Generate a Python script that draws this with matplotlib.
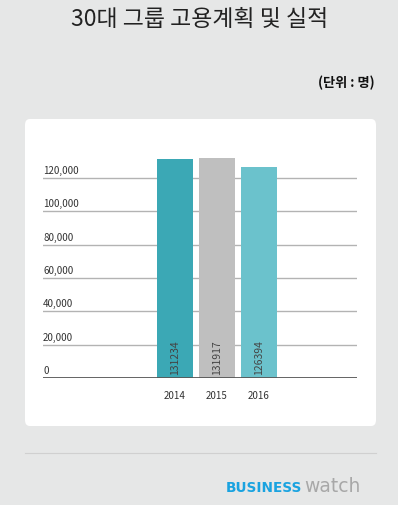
import matplotlib
matplotlib.use("Agg")
import matplotlib.pyplot as plt
from matplotlib.patches import FancyBboxPatch
from matplotlib.lines import Line2D

plt.rcParams['font.family'] = ['Noto Sans CJK KR', 'DejaVu Sans']

years = ['2014', '2015', '2016']
employees = [131234, 131917, 126394]
bar_colors = ['#3ba8b5', '#bfbfbf', '#6bc2cc']
yticks = [0, 20000, 40000, 60000, 80000, 100000, 120000]

W, H = 398, 506
BG = '#e6e7e7'


def fx(px):
    return px / W


def fy(py):
    return 1 - py / H


fig = plt.figure(figsize=(W / 100, H / 100), dpi=100)
fig.patch.set_facecolor(BG)

# white panel behind the axes
panel = FancyBboxPatch((fx(25), fy(427)), fx(376) - fx(25), fy(120) - fy(427),
                       boxstyle="round,pad=0,rounding_size=0.012",
                       transform=fig.transFigure, facecolor='white',
                       edgecolor='none', zorder=-1)
fig.patches.append(panel)

fig.text(fx(200), fy(20), '30대 그룹 고용계획 및 실적', ha='center', va='center',
         fontsize=16.5, color='#222222')
fig.text(fx(375), fy(83), '(단위 : 명)', ha='right', va='center',
         fontsize=9.5, fontweight='bold', color='#111111')

ax_left, ax_right = 43, 357
ax_top, ax_bottom = 140, 379
ax = fig.add_axes([fx(ax_left), fy(ax_bottom), fx(ax_right) - fx(ax_left),
                   fy(ax_top) - fy(ax_bottom)])
ax.set_zorder(1)
ax.set_facecolor('none')
px_per_unit = 42
ax.set_xlim(-(175 - ax_left) / px_per_unit, (ax_right - 175) / px_per_unit)
ymax = (ax_bottom - ax_top) / 200 * 120000
ax.set_ylim(0, ymax)

for t in yticks[1:]:
    ax.axhline(t, color='#b3b3b3', lw=1, zorder=1)
ax.axhline(0, color='#555555', lw=2, zorder=3)

xs = list(range(len(years)))
ax.bar(xs, employees, width=36 / px_per_unit, color=bar_colors, zorder=2)

for x, v in zip(xs, employees):
    ax.text(x, 2200, str(v), rotation=90, ha='center', va='bottom',
            fontsize=7.5, color='#444444', zorder=4)

for t in yticks:
    ax.text(0.0, t + 4800, f'{t:,}', transform=ax.get_yaxis_transform(),
            ha='left', va='center', fontsize=7, color='#333333')

for x, y in zip(xs, years):
    ax.text(x, -10500, y, ha='center', va='center', fontsize=7,
            color='#333333', clip_on=False)

ax.set_xticks([])
ax.set_yticks([])
for s in ax.spines.values():
    s.set_visible(False)

# footer line and logo
fig.add_artist(Line2D([fx(25), fx(376)], [fy(454), fy(454)],
                      color='#d0d0d0', lw=0.8, transform=fig.transFigure))
t1 = fig.text(fx(226), fy(488), 'BUSINESS', ha='left', va='center',
              fontsize=9.8, fontweight='bold', color='#1aa3e0',
              family=['DejaVu Sans'])
fig.canvas.draw()
bb = t1.get_window_extent()
fig.text(bb.x1 / W + 0.004, fy(487), 'watch', ha='left', va='center',
         fontsize=13.5, color='#a8a8a8', family=['DejaVu Sans'])

fig.savefig('out.png', dpi=100, facecolor=BG)
